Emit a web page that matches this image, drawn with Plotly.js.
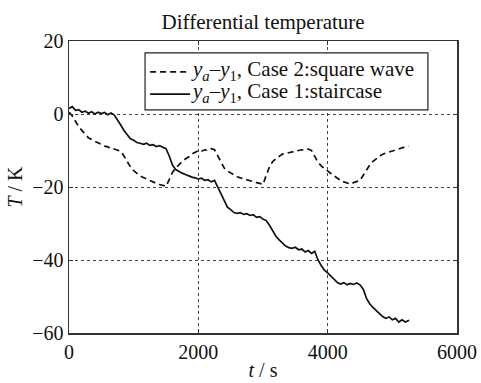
<!DOCTYPE html>
<html><head><meta charset="utf-8">
<script src="https://cdn.plot.ly/plotly-3.0.1.min.js"></script>
<style>body{margin:0;background:#fff}#c{width:481px;height:383px}</style>
</head><body><div id="c"></div>
<script>
const tCase1 = [0,50,100,150,200,250,300,350,400,450,500,550,600,650,700,750,800,850,900,950,1000,1050,1100,1150,1200,1250,1300,1350,1400,1450,1500,1550,1600,1650,1700,1750,1800,1850,1900,1950,2000,2050,2100,2150,2200,2250,2300,2350,2400,2450,2500,2550,2600,2650,2700,2750,2800,2850,2900,2950,3000,3050,3100,3150,3200,3250,3300,3350,3400,3450,3500,3550,3600,3650,3700,3750,3800,3850,3900,3950,4000,4050,4100,4150,4200,4250,4300,4350,4400,4450,4500,4550,4600,4650,4700,4750,4800,4850,4900,4950,5000,5050,5100,5150,5200,5260];
const yCase1 = [1.5,2.0,1.0,1.2,0.5,0.8,0.2,0.6,0.0,0.5,0.1,0.4,-0.2,0.3,-0.3,-1.5,-3.0,-4.5,-5.8,-6.8,-7.2,-7.8,-8.0,-8.3,-8.0,-8.6,-8.4,-8.9,-8.7,-9.2,-9.5,-11.5,-14.0,-15.2,-15.8,-16.2,-16.6,-17.0,-17.3,-17.5,-17.8,-17.6,-18.2,-18.0,-18.6,-18.2,-20.0,-22.0,-24.0,-25.5,-26.2,-27.0,-27.2,-27.0,-27.5,-27.3,-27.8,-27.6,-28.3,-28.1,-28.8,-29.2,-30.5,-32.0,-33.5,-34.5,-35.5,-36.2,-36.6,-36.8,-36.5,-37.2,-37.0,-37.8,-37.4,-38.2,-37.6,-40.0,-41.5,-42.8,-43.5,-44.5,-45.5,-46.2,-46.6,-46.2,-46.8,-46.4,-46.7,-46.3,-46.8,-48.0,-50.5,-52.0,-53.0,-53.8,-54.5,-55.5,-56.0,-55.6,-56.4,-56.0,-57.0,-56.4,-57.0,-56.5];
const tCase2 = [0,50,100,150,200,250,300,350,400,450,500,550,600,650,700,750,800,850,900,950,1000,1050,1100,1150,1200,1250,1300,1350,1400,1450,1500,1550,1600,1650,1700,1750,1800,1850,1900,1950,2000,2050,2100,2150,2200,2250,2300,2350,2400,2450,2500,2550,2600,2650,2700,2750,2800,2850,2900,2950,3000,3050,3100,3150,3200,3250,3300,3350,3400,3450,3500,3550,3600,3650,3700,3750,3800,3850,3900,3950,4000,4050,4100,4150,4200,4250,4300,4350,4400,4450,4500,4550,4600,4650,4700,4750,4800,4850,4900,4950,5000,5050,5100,5150,5200,5250];
const yCase2 = [0.5,-0.5,-2.0,-3.5,-4.5,-5.5,-6.5,-7.0,-7.5,-8.0,-8.3,-8.8,-9.0,-9.5,-9.6,-9.8,-10.2,-11.5,-13.2,-14.5,-15.5,-16.2,-17.0,-17.4,-17.8,-18.4,-18.6,-19.0,-19.3,-19.6,-19.8,-18.0,-16.0,-14.8,-13.8,-13.0,-12.3,-11.8,-11.0,-10.4,-10.0,-10.2,-9.8,-10.0,-9.5,-9.8,-11.5,-13.5,-14.8,-15.6,-16.2,-16.8,-17.2,-17.5,-17.8,-18.0,-18.3,-18.5,-18.8,-19.0,-19.3,-16.8,-14.5,-13.0,-12.2,-11.6,-11.0,-10.8,-10.5,-10.3,-10.1,-10.0,-9.8,-9.9,-9.6,-10.0,-11.8,-13.2,-14.2,-15.0,-15.6,-16.3,-17.0,-17.6,-18.2,-18.6,-18.9,-19.2,-18.8,-18.6,-18.2,-16.8,-15.2,-14.0,-13.0,-12.2,-11.6,-11.0,-10.7,-10.4,-10.0,-9.8,-9.6,-9.2,-9.0,-8.8];
const xTicks = [0,2000,4000,6000];
const yTicks = [-60,-40,-20,0,20];
const nameCase2 = '<i>y</i><sub><i>a</i></sub>–<i>y</i><sub>1</sub>, Case 2:square wave';
const nameCase1 = '<i>y</i><sub><i>a</i></sub>–<i>y</i><sub>1</sub>, Case 1:staircase';

const F = 'Liberation Serif, Times New Roman, serif';
const dash2 = '6px,4px';
const data = [
 {x: tCase2, y: yCase2, mode:'lines', name: nameCase2, showlegend:false, line:{color:'#111', width:1.7, dash:dash2}},
 {x: tCase1, y: yCase1, mode:'lines', name: nameCase1, showlegend:false, line:{color:'#111', width:1.7}}
];
// Legend drawn as a boxed key in paper coordinates (layout only)
const legBox = {x0:0.196, x1:0.925, y0:0.764, y1:0.959};
const legRows = [0.894, 0.818];
const legSampleX = [0.209, 0.312];
const legendShapes = [
 {type:'rect', xref:'paper', yref:'paper', x0:legBox.x0, x1:legBox.x1, y0:legBox.y0, y1:legBox.y1,
  line:{color:'#222', width:1.2}, fillcolor:'#fff', layer:'above'},
 {type:'line', xref:'paper', yref:'paper', x0:legSampleX[0], x1:legSampleX[1], y0:legRows[0], y1:legRows[0],
  line:{color:'#111', width:1.7, dash:dash2}, layer:'above'},
 {type:'line', xref:'paper', yref:'paper', x0:legSampleX[0], x1:legSampleX[1], y0:legRows[1], y1:legRows[1],
  line:{color:'#111', width:1.7}, layer:'above'}
];
const legendTexts = [nameCase2, nameCase1].map((t,i)=>({
 text:t, xref:'paper', yref:'paper', x:legSampleX[1], y:legRows[i]+0.006, xanchor:'left', yanchor:'middle',
 height:23, valign:'middle', borderpad:0,
 showarrow:false, font:{family:F,size:21,color:'#111'}
}));

const ax = {showline:true, linecolor:'#333', linewidth:1.5, mirror:'ticks', ticks:'inside', ticklen:4, tickcolor:'#333',
  showgrid:true, gridcolor:'#444', griddash:'dot', gridwidth:1, zeroline:false, tickfont:{family:F,size:20,color:'#111'}};
const layout = {
  width:481, height:383, paper_bgcolor:'#fff', plot_bgcolor:'#fff',
  margin:{l:69, r:24, t:41, b:50},
  title:{text:'Differential temperature', font:{family:F,size:21,color:'#111'}, x:0.547, xanchor:'center', y:0.943, yanchor:'middle'},
  xaxis:Object.assign({}, ax, {range:[0,6000], tickvals:xTicks, ticktext:xTicks.map(String),
     title:{text:'<i>t</i> / s', font:{family:F,size:20,color:'#111'}, standoff:1}}),
  yaxis:Object.assign({}, ax, {range:[-60,20], tickvals:yTicks, ticktext:yTicks.map(v=>v<0?'−'+Math.abs(v):String(v)),
     title:{text:'<i>T</i> / K', font:{family:F,size:20,color:'#111'}, standoff:4}}),
  showlegend:false,
  shapes:legendShapes,
  annotations:legendTexts
};
Plotly.newPlot('c', data, layout, {staticPlot:true});
</script></body></html>
